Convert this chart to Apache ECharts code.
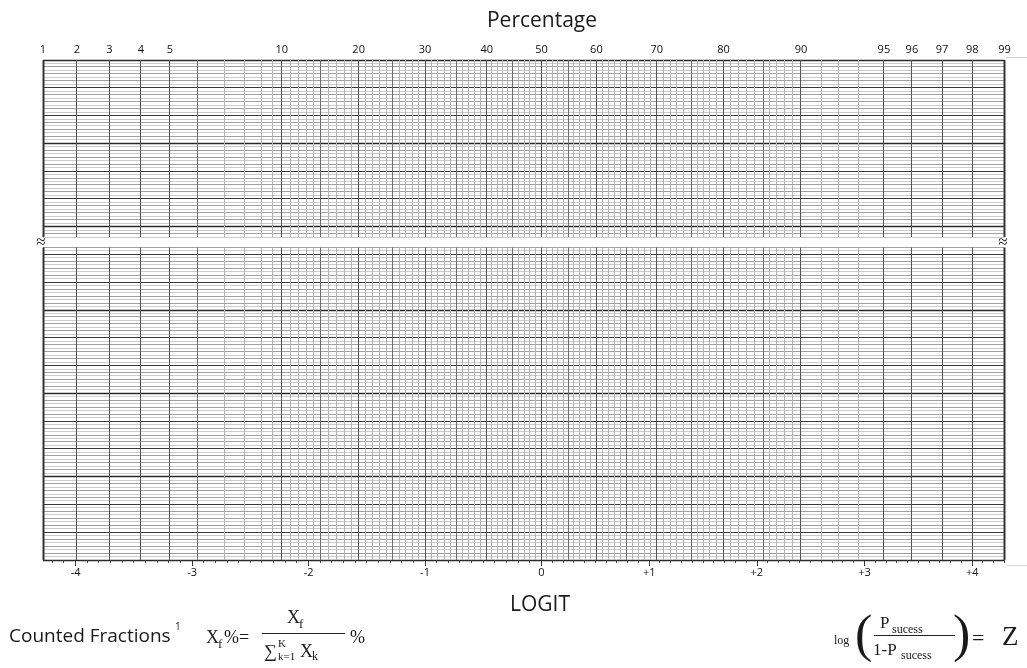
<!DOCTYPE html>
<html>
<head>
<meta charset="utf-8">
<script src="https://cdn.jsdelivr.net/npm/echarts@6/dist/echarts.min.js"></script>
<style>
html, body { margin: 0; padding: 0; background: #fff; }
#chart { width: 1027px; height: 668px; }
</style>
</head>
<body>
<div id="chart"></div>
<script>
// top scale: percentages and where each one sits on the logit axis
var pctLabels = [1, 2, 3, 4, 5, 10, 20, 30, 40, 50, 60, 70, 80, 90, 95, 96, 97, 98, 99];
var pctAnchors = [1, 2, 3, 4, 5, 6, 7, 8, 9, 9.5, 10, 15, 20, 25, 30, 35, 40, 45, 50,
	55, 60, 65, 70, 75, 80, 85, 90, 91, 92, 93, 95, 96, 97, 98, 99];
var pctAnchorAt = [-4.28, -3.99, -3.71, -3.44, -3.19, -2.95, -2.72, -2.55, -2.40, -2.31, -2.23,
	-1.90, -1.57, -1.28, -1.00, -0.73, -0.47, -0.25, 0,
	0.25, 0.51, 0.79, 1.07, 1.39, 1.69, 2.06, 2.41, 2.60, 2.76, 2.94, 3.18, 3.44, 3.72, 4.00, 4.30];

// bottom scale: logit
var logitMin = -4.28;
var logitMax = 4.30;
var logitTicks = [-4, -3, -2, -1, 0, 1, 2, 3, 4];
var logitLabels = ['-4', '-3', '-2', '-1', '0', '+1', '+2', '+3', '+4'];

// horizontal rulings, counted in rows from the bottom edge
var rowTop = 144;       // top edge
var upperFrom = 93;     // upper panel starts here
var lowerTo = 90;       // lower panel ends here
var rowMajor = 8;
var rowHeavy = 24;

function logit(p) {
	return Math.log(p / (100 - p));
}

// place a percentage on the logit axis between the two nearest read anchors
function pctPos(p) {
	for (var i = 0; i < pctAnchors.length - 1; i++) {
		var a = pctAnchors[i], b = pctAnchors[i + 1];
		if (p >= a && p <= b) {
			var t = (logit(p) - logit(a)) / (logit(b) - logit(a));
			return pctAnchorAt[i] + t * (pctAnchorAt[i + 1] - pctAnchorAt[i]);
		}
	}
	return null;
}

// vertical rulings: [pos, kind, pct]  kind 0 edge, 1 labelled, 2 five, 3 fine, 9 minor tick
var vLines = [];
pctAnchors.forEach(function (p) {
	var kind = 3;
	if (p === 1 || p === 99) kind = 0;
	else if (pctLabels.indexOf(p) >= 0) kind = 1;
	else if (p % 5 === 0 || p === 6) kind = 2;
	vLines.push([pctPos(p), kind, p]);
});
for (var p = 11; p < 90; p++) {
	if (pctAnchors.indexOf(p) < 0) vLines.push([pctPos(p), 3, p]);
}

var minorTicks = [];
for (var t = -42; t <= 43; t++) {
	if (t % 10 !== 0) minorTicks.push([t / 10, 9]);
}

var rows = [];
for (var r = 0; r <= rowTop; r++) {
	var kind = 3;
	if (r % rowHeavy === 0) kind = 0;
	else if (r % rowMajor === 0) kind = 1;
	else if (r % 2 === 0) kind = 2;
	rows.push([r, kind]);
}

var vStyle = {
	0: { stroke: '#333', lineWidth: 2 },
	1: { stroke: '#555', lineWidth: 1 },
	2: { stroke: '#6e6e6e', lineWidth: 1 },
	3: { stroke: '#b4b4b4', lineWidth: 1 },
	9: { stroke: '#444', lineWidth: 1 }
};
var hStyle = {
	0: { stroke: '#2a2a2a', lineWidth: 1.4 },
	1: { stroke: '#3a3a3a', lineWidth: 1.1 },
	2: { stroke: '#a0a0a0', lineWidth: 1 },
	3: { stroke: '#cccccc', lineWidth: 1 }
};

function crisp(v) {
	return Math.round(v - 0.5) + 0.5;
}

function renderV(params, api) {
	var cs = params.coordSys;
	var x = crisp(api.coord([api.value(0), 0])[0]);
	var kind = api.value(1);
	var y1 = cs.y, y2 = cs.y + cs.height;
	if (kind === 9) { y1 = y2; y2 = y2 + 3; }
	return { type: 'line', shape: { x1: x, y1: y1, x2: x, y2: y2 }, style: vStyle[kind], silent: true };
}

function renderH(params, api) {
	var cs = params.coordSys;
	var y = crisp(api.coord([0, api.value(0)])[1]);
	var kind = api.value(1);
	return { type: 'line', shape: { x1: cs.x, y1: y, x2: cs.x + cs.width, y2: y }, style: hStyle[kind], silent: true };
}

function byKind(list) {
	return list.slice().sort(function (a, b) { return b[1] - a[1]; });
}

var leftV = byKind(vLines.filter(function (d) { return d[2] <= 50; }));
var rightV = byKind(vLines.filter(function (d) { return d[2] >= 50; }));
var upperRows = byKind(rows.filter(function (d) { return d[0] >= upperFrom; }));
var lowerRows = byKind(rows.filter(function (d) { return d[0] <= lowerTo; }));

var leftLabelPos = pctLabels.filter(function (p) { return p <= 50; }).map(pctPos);
var rightLabelPos = pctLabels.filter(function (p) { return p > 50; }).map(pctPos);

function pctFormatter(v) {
	var best = 0, d = 1e9;
	pctLabels.forEach(function (p, i) {
		var dd = Math.abs(pctPos(p) - v);
		if (dd < d) { d = dd; best = i; }
	});
	return String(pctLabels[best]);
}
function logitFormatter(v) {
	return logitLabels[logitTicks.indexOf(Math.round(v))];
}

var sans = "'Open Sans', 'Noto Sans', sans-serif";
var serif = "'Liberation Serif', 'DejaVu Serif', serif";

var grids = [
	{ left: 43, width: 498.5, top: 60, height: 177 },
	{ left: 541.5, width: 463, top: 60, height: 177 },
	{ left: 43, width: 498.5, top: 247.5, height: 312.5 },
	{ left: 541.5, width: 463, top: 247.5, height: 312.5 }
];

function xAxisFor(i) {
	var left = i % 2 === 0;
	var ax = {
		type: 'value',
		gridIndex: i,
		min: left ? logitMin : 0,
		max: left ? 0 : logitMax,
		axisLine: { show: false },
		splitLine: { show: false },
		axisTick: { show: false },
		axisLabel: { show: false }
	};
	if (i < 2) {
		ax.position = 'top';
		ax.axisLabel = {
			show: true,
			customValues: left ? leftLabelPos : rightLabelPos,
			formatter: pctFormatter,
			fontSize: 11,
			fontFamily: sans,
			color: '#111',
			margin: 5
		};
	} else {
		var vals = logitTicks.filter(function (v) { return left ? v <= 0 : v > 0; });
		ax.position = 'bottom';
		ax.axisTick = { show: true, customValues: vals, length: 6, lineStyle: { color: '#333', width: 1 } };
		ax.axisLabel = {
			show: true,
			customValues: vals,
			formatter: logitFormatter,
			fontSize: 11,
			fontFamily: sans,
			color: '#111',
			margin: 7
		};
	}
	return ax;
}

function yAxisFor(i) {
	return {
		type: 'value',
		gridIndex: i,
		min: i < 2 ? upperFrom : 0,
		max: i < 2 ? rowTop : lowerTo,
		show: false
	};
}

var series = [];
[0, 1, 2, 3].forEach(function (i) {
	var left = i % 2 === 0;
	series.push({
		type: 'custom', xAxisIndex: i, yAxisIndex: i, silent: true, animation: false,
		renderItem: renderH, data: i < 2 ? upperRows : lowerRows
	});
	var v = left ? leftV : rightV;
	if (i >= 2) {
		v = minorTicks.filter(function (d) { return left ? d[0] < 0 : d[0] > 0; }).concat(v);
	}
	series.push({
		type: 'custom', xAxisIndex: i, yAxisIndex: i, silent: true, animation: false,
		renderItem: renderV, data: v
	});
});

function txt(text, x, y, size, family, align, extra) {
	var s = { text: text, fontSize: size, fontFamily: family, fill: '#1a1a1a', align: align || 'left', verticalAlign: 'middle' };
	if (extra) for (var k in extra) s[k] = extra[k];
	return { type: 'text', x: x, y: y, style: s, silent: true };
}
function rule(x1, y1, x2, y2, color, w) {
	return { type: 'line', shape: { x1: x1, y1: y1, x2: x2, y2: y2 }, style: { stroke: color, lineWidth: w }, silent: true };
}

var graphics = [
	txt('Percentage', 542, 21, 21, sans, 'center'),
	txt('LOGIT', 540, 605, 21, sans, 'center'),
	txt('≈', 41, 243, 17, serif, 'center'),
	txt('≈', 1003, 243, 17, serif, 'center'),
	rule(1006, 57.5, 1027, 57.5, '#cfcfcf', 1),
	rule(1006, 565.5, 1027, 565.5, '#d8d8d8', 1),

	txt('Counted Fractions', 9, 637, 19, sans),
	txt('1', 175, 627, 10, sans),
	txt('X', 206, 638, 18, serif),
	txt('f', 218, 645, 13, serif),
	txt('%=', 224, 638, 18, serif),
	txt('X', 287, 618, 18, serif),
	txt('f', 299, 625, 13, serif),
	rule(262, 633.5, 345, 633.5, '#222', 1),
	txt('∑', 264, 652, 18, serif),
	txt('K', 278, 644, 11, serif),
	txt('k=1', 278, 657, 11, serif),
	txt('X', 300, 652, 18, serif),
	txt('k', 312, 657, 12, serif),
	txt('%', 350, 638, 18, serif),

	txt('log', 834, 641, 12, serif),
	txt('(', 855, 637, 52, serif),
	txt('P', 880, 624, 17, serif),
	txt('sucess', 892, 630, 12, serif),
	rule(874, 635.5, 955, 635.5, '#222', 1),
	txt('1-P', 873, 651, 17, serif),
	txt('sucess', 901, 656, 12, serif),
	txt(')', 953, 637, 52, serif),
	txt('=', 972, 639, 22, serif),
	txt('Z', 1002, 638, 27, serif)
];

var myChart = echarts.init(document.getElementById('chart'));
myChart.setOption({
	animation: false,
	backgroundColor: '#fff',
	grid: grids,
	xAxis: [0, 1, 2, 3].map(xAxisFor),
	yAxis: [0, 1, 2, 3].map(yAxisFor),
	series: series,
	graphic: graphics
});
</script>
</body>
</html>
